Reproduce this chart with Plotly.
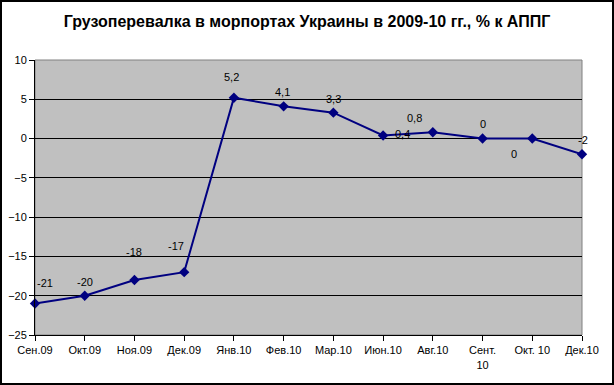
import plotly.graph_objects as go

categories = ["Сен.09", "Окт.09", "Ноя.09", "Дек.09", "Янв.10", "Фев.10", "Мар.10",
              "Июн.10", "Авг.10", "Сент.<br>10", "Окт. 10", "Дек.10"]
values = [-21, -20, -18, -17, 5.2, 4.1, 3.3, 0.4, 0.8, 0, 0, -2]
labels = ["-21", "-20", "-18", "-17", "5,2", "4,1", "3,3", "0,4", "0,8", "0", "0", "-2"]
# label pixel offsets (dx, dy) relative to the marker
label_offsets = [(10, 21), (0, 14), (0, 28), (-8, 26), (-2, 21), (-1, 14), (0, 14),
                 (19, 1), (-18, 14), (0, 15), (-18, -15), (1, 14)]
y_ticks = [10, 5, 0, -5, -10, -15, -20, -25]

W, H = 614, 385
ml, mr, mt, mb = 35, 32, 60, 50
FONT = "Liberation Sans, Arial, sans-serif"

x_idx = list(range(len(categories)))

fig = go.Figure()
fig.add_trace(go.Scatter(
    x=x_idx, y=values, mode="lines+markers",
    line=dict(color="#000080", width=2),
    marker=dict(symbol="diamond", size=8, color="#000080"),
    cliponaxis=False, hoverinfo="skip", showlegend=False,
))

for xi, v, t, (dx, dy) in zip(x_idx, values, labels, label_offsets):
    fig.add_annotation(x=xi, y=v, text=t, showarrow=False, xshift=dx, yshift=dy,
                       font=dict(family=FONT, size=11, color="black"),
                       xanchor="center", yanchor="middle")

pw = W - ml - mr
ph = H - mt - mb
# outer frame
fig.add_shape(type="rect", xref="paper", yref="paper",
              x0=(-ml + 1) / pw, x1=(pw + mr - 1) / pw,
              y0=(-mb + 1) / ph, y1=(ph + mt - 1) / ph,
              line=dict(color="black", width=2), layer="below")
# plot area border
fig.add_shape(type="rect", xref="paper", yref="paper", x0=0, x1=1, y0=0, y1=1,
              line=dict(color="#808080", width=1), layer="below")

fig.update_layout(
    width=W, height=H,
    margin=dict(l=ml, r=mr, t=mt, b=mb),
    paper_bgcolor="white", plot_bgcolor="#C0C0C0",
    title=dict(text="<b>Грузоперевалка в морпортах Украины в 2009-10 гг., % к АППГ</b>",
               x=0.5, xanchor="center", y=1 - 21 / H, yanchor="middle",
               font=dict(family=FONT, size=16, color="black")),
    xaxis=dict(range=[0, len(categories) - 1], tickmode="array", tickvals=x_idx,
               ticktext=categories, showgrid=False, zeroline=False,
               showline=True, linecolor="black", linewidth=1,
               ticks="outside", ticklen=5, tickcolor="black", automargin=False,
               tickfont=dict(family=FONT, size=11, color="black")),
    yaxis=dict(range=[-25, 10], tickmode="array", tickvals=y_ticks,
               showgrid=True, gridcolor="black", gridwidth=1, zeroline=False,
               showline=True, linecolor="black", linewidth=1,
               ticks="outside", ticklen=5, tickcolor="black", automargin=False,
               tickfont=dict(family=FONT, size=11, color="black")),
)

fig.write_html("out.html", config={"displayModeBar": False},
               post_script="document.body.style.margin='0';document.body.style.padding='0';")
